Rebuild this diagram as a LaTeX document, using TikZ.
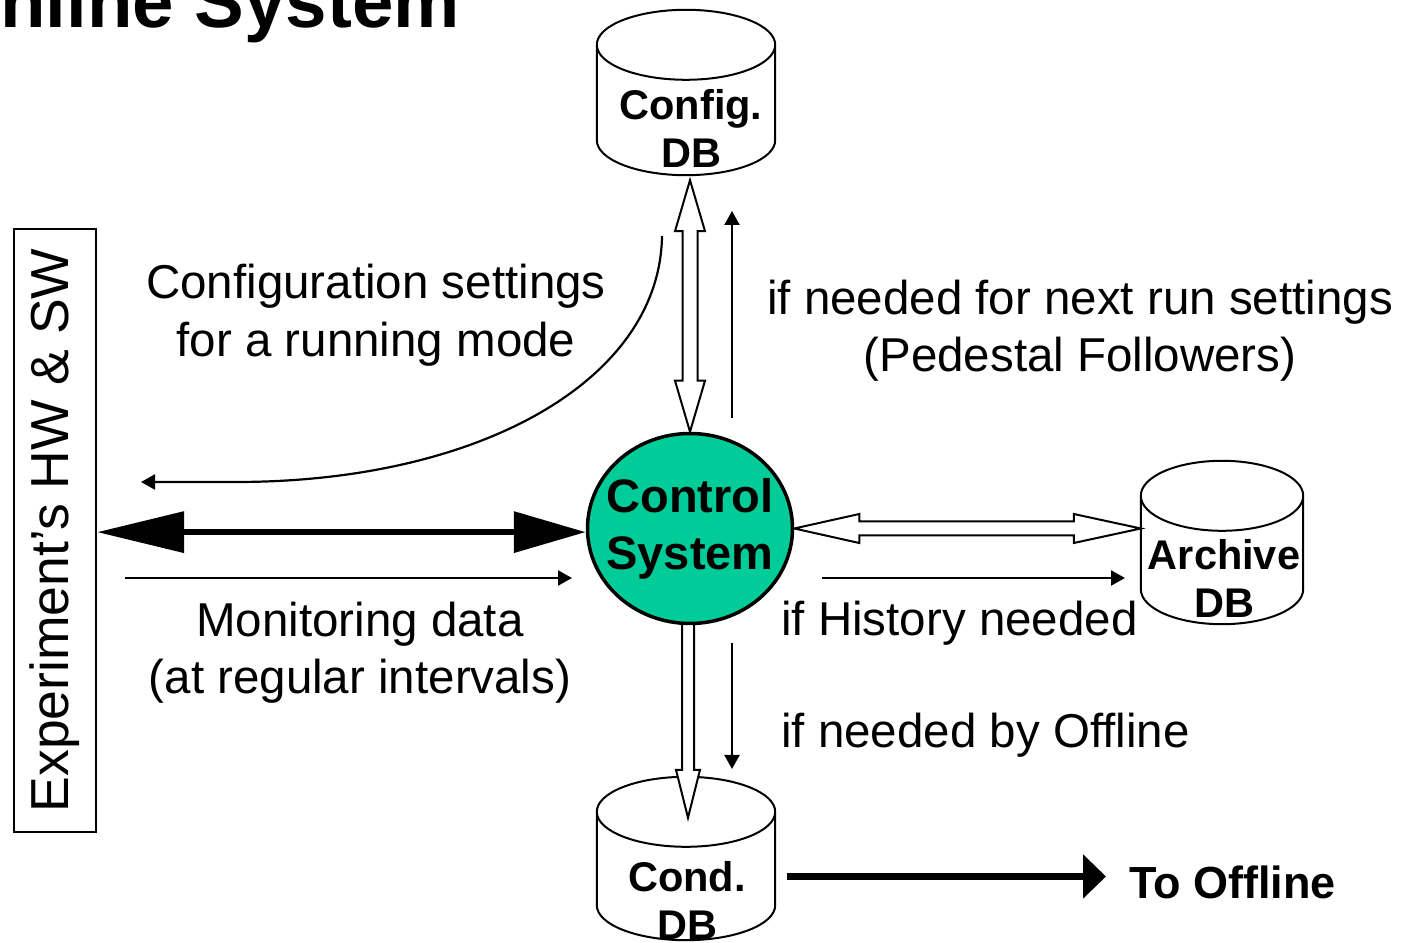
\documentclass[tikz,border=0pt]{standalone}
\usepackage{fontspec}
\setmainfont{Liberation Sans}[Ligatures=NoCommon]
\usepackage{graphicx}
\usetikzlibrary{arrows.meta,calc,shapes.geometric}
\definecolor{ctrlgreen}{RGB}{0,204,153}
\pgfdeclarelayer{bg}
\pgfsetlayers{bg,main}

% database drum drawn over the invisible box of node #1
\newcommand\drawdrum[1]{%
  \path[dbline] let \p1=(#1.north west), \p2=(#1.south east), \n1={(\x2-\x1)/2} in
    (\x1,\y1-35pt) -- (\x1,\y2+35pt)
      arc[start angle=180,end angle=360,x radius=\n1,y radius=35pt]
      -- (\x2,\y1-35pt)
      arc[start angle=0,end angle=180,x radius=\n1,y radius=35pt] -- cycle
    (\x1,\y1-35pt) arc[start angle=180,end angle=360,x radius=\n1,y radius=35pt];}

\begin{document}
\begin{tikzpicture}[x=1pt,y=1pt,
  lbl/.style={inner sep=0pt, font=\fontsize{47.5}{57.5}\selectfont},
  dbtxt/.style={inner sep=0pt, align=center, font=\bfseries\fontsize{41.5}{48}\selectfont},
  dbbox/.style={rectangle, inner sep=0pt},
  dbline/.style={draw, fill=white, line width=2pt},
  hollow/.style={draw, fill=white, line width=2pt, line join=miter},
  smallarr/.style={line width=2.2pt, -{Triangle[length=14pt,width=15pt]}},
  bigarr/.style={line width=6.5pt, {Triangle[length=87pt,width=40pt]}-{Triangle[length=72pt,width=40pt]}},
  offarr/.style={line width=7.5pt, -{Triangle[length=23pt,width=43pt]}},
]
\useasboundingbox (0,0) rectangle (1402,942);
\clip (0,0) rectangle (1402,942);

% heading
\node[anchor=base west, inner sep=0pt, font=\bfseries\fontsize{74.5}{80}\selectfont] (title) at (0,914) {nline System};

% database boxes
\node[dbbox, minimum width=178pt, minimum height=165pt] (cfg) at (686,849.5) {};
\node[dbbox, minimum width=162pt, minimum height=163pt] (arch) at (1222,399.5) {};
\node[dbbox, minimum width=178pt, minimum height=163pt] (cond) at (686,83.5) {};

% control system
\node[ellipse, draw, line width=3.5pt, fill=ctrlgreen, minimum width=205pt, minimum height=190pt,
      inner sep=0pt] (ctrl) at (690,413.5) {};
\node[inner sep=0pt, align=center, font=\bfseries\fontsize{47}{57}\selectfont] (ctrltxt) at (ctrl.center) {Control\\System};

% hardware / software block
\node[draw, line width=2pt, minimum width=82pt, minimum height=603pt, inner sep=0pt,
      font=\fontsize{53.5}{60}\selectfont] (hw) at (55,411.5) {\rotatebox{90}{Experiment’s HW \& SW}};

\begin{pgfonlayer}{bg}
  \drawdrum{cfg}
  \drawdrum{arch}
  \drawdrum{cond}
  % configuration <-> control
  \draw[hollow] let \p1=($(ctrl.north |- cfg.south)+(0,-5)$), \p2=(ctrl.north) in
    (\x1,\y1) -- (\x1+15pt,\y1-51pt) -- (\x1+7.5pt,\y1-51pt) -- (\x1+7.5pt,\y2+51pt)
    -- (\x1+15pt,\y2+51pt) -- (\x1,\y2) -- (\x1-15pt,\y2+51pt) -- (\x1-7.5pt,\y2+51pt)
    -- (\x1-7.5pt,\y1-51pt) -- (\x1-15pt,\y1-51pt) -- cycle;
  % control <-> archive
  \draw[hollow] let \p1=(ctrl.east), \p2=(arch.west |- ctrl.east) in
    (\x1,\y1) -- (\x1+65pt,\y1+14.5pt) -- (\x1+65pt,\y1+7pt) -- (\x2-67pt,\y1+7pt)
    -- (\x2-67pt,\y1+14.5pt) -- (\x2,\y1) -- (\x2-67pt,\y1-14.5pt) -- (\x2-67pt,\y1-7pt)
    -- (\x1+65pt,\y1-7pt) -- (\x1+65pt,\y1-14.5pt) -- cycle;
  % control -> conditions
  \draw[hollow] let \p1=($(ctrl.south)+(-2,20)$), \p2=($(cond.north)+(2,-41)$) in
    (\x1-6pt,\y1) -- (\x1-6pt,\y2+48pt) -- (\x1-12pt,\y2+48pt) -- (\x1,\y2)
    -- (\x1+12pt,\y2+48pt) -- (\x1+6pt,\y2+48pt) -- (\x1+6pt,\y1) -- cycle;
\end{pgfonlayer}

% database labels
\node[dbtxt] (cfgtxt) at (691,813.2) {Config.\\DB};
\node[dbtxt] (archtxt) at (1224,363.2) {Archive\\DB};
\node[dbtxt] (condtxt) at (687,41.2) {Cond.\\DB};

% descriptive labels
\node[lbl, align=center] (cfgset) at (376,626.7) {Configuration settings\\for a running mode};
\node[lbl, align=center] (nextrun) at (1080,611.4) {if needed for next run settings\\(Pedestal Followers)};
\node[lbl, align=center] (mon) at (360,289.3) {Monitoring data\\(at regular intervals)};
\node[lbl, anchor=base west] (hist) at (781,306) {if History needed};
\node[lbl, anchor=base west] (offby) at (781,194) {if needed by Offline};
\node[inner sep=0pt, anchor=base west, font=\bfseries\fontsize{45}{50}\selectfont] (tooff) at (1129,44) {To Offline};

% free ends of the thin arrows
\coordinate (monA) at (125,364);
\coordinate (monB) at (572,364);
\coordinate (curveA) at (662,706);
\coordinate (curveB) at (141,460);
\coordinate (upA) at (732,524);
\coordinate (upB) at (732,731);
\coordinate (histA) at (822,364);
\coordinate (histB) at (1125,364);
\coordinate (downA) at (732,299);
\coordinate (downB) at (732,173);
\coordinate (offA) at (787,65.5);
\coordinate (offB) at (1106,65.5);

% connectors
\draw[bigarr] (hw.east |- ctrl.182) -- (ctrl.182);
\draw[smallarr] (monA) -- (monB);
\draw[smallarr] (curveA) .. controls (660,562) and (480,460) .. (236,460) -- (curveB);
\draw[smallarr] (upA) -- (upB);
\draw[smallarr] (histA) -- (histB);
\draw[smallarr] (downA) -- (downB);
\draw[offarr] (offA) -- (offB);
\end{tikzpicture}
\end{document}
